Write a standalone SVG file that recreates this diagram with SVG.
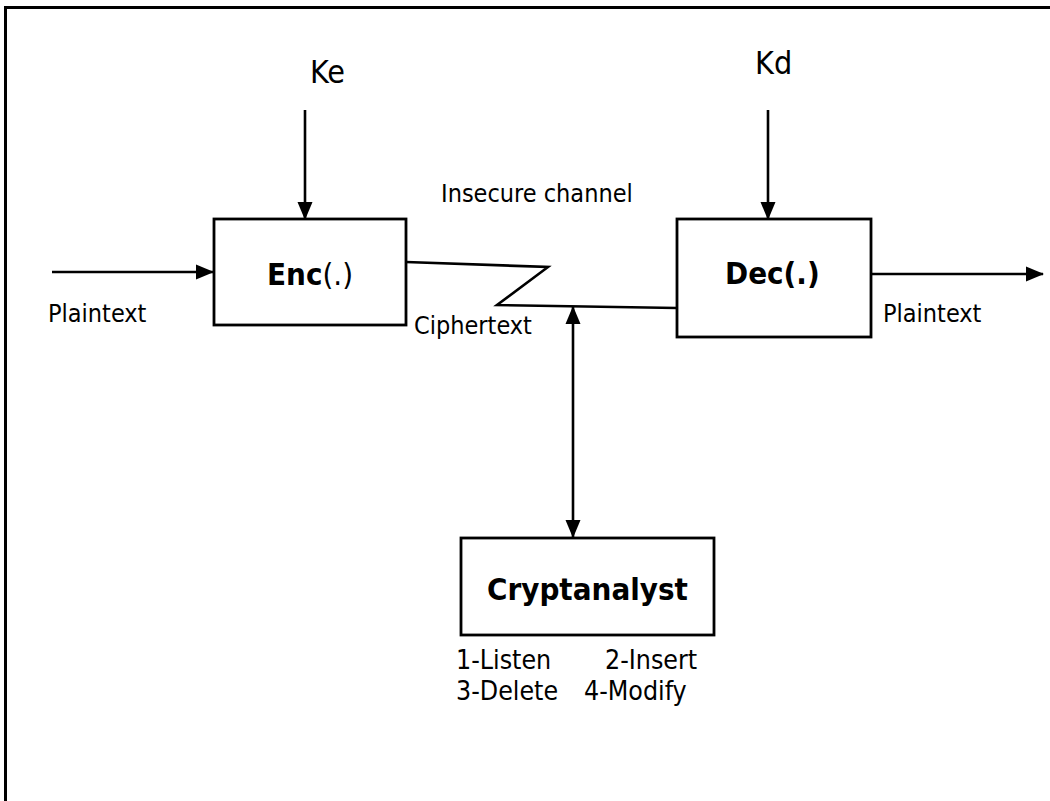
<svg xmlns="http://www.w3.org/2000/svg" width="1050" height="801" viewBox="0 0 1050 801">
  <style>
    text { font-family: "DejaVu Sans Condensed", "DejaVu Sans", sans-serif; font-stretch: condensed; fill: #000; }
    .lbl { font-size: 25px; }
    .op { font-size: 26.5px; }
    .key { font-size: 32px; }
    .title { font-size: 31px; font-weight: bold; }
    .box { fill: #fff; stroke: #000; stroke-width: 2.8; }
    .wire { fill: none; stroke: #000; stroke-width: 2.6; }
  </style>
  <defs>
    <marker id="head" viewBox="0 0 18 16" refX="17" refY="8" markerWidth="18" markerHeight="16" markerUnits="userSpaceOnUse" orient="auto-start-reverse">
      <path d="M0,0.5 L18,8 L0,15.5 Z" fill="#000"/>
    </marker>
  </defs>

  <rect width="1050" height="801" fill="#fff"/>

  <!-- outer frame: top and left edges only -->
  <path d="M5.5,801 V7.5 H1050" fill="none" stroke="#000" stroke-width="3"/>

  <g id="connectors">
    <!-- key inputs -->
    <line class="wire" x1="305" y1="110" x2="305" y2="219" marker-end="url(#head)"/>
    <line class="wire" x1="768" y1="110" x2="768" y2="219" marker-end="url(#head)"/>
    <!-- plaintext in / out -->
    <line class="wire" x1="52" y1="272" x2="213" y2="272" marker-end="url(#head)"/>
    <line class="wire" x1="871" y1="274" x2="1043" y2="274" marker-end="url(#head)"/>
    <!-- insecure channel with break symbol -->
    <polyline class="wire" points="406,262 548,267 497,305 677,308"/>
    <!-- two-way link to the cryptanalyst -->
    <line class="wire" x1="573" y1="307" x2="573" y2="537" marker-start="url(#head)" marker-end="url(#head)"/>
  </g>

  <g id="key-e">
    <text class="key" x="310" y="83">Ke</text>
  </g>
  <g id="key-d">
    <text class="key" x="755" y="74">Kd</text>
  </g>

  <g id="enc">
    <rect class="box" x="214" y="219" width="192" height="106"/>
    <text class="title" x="267" y="285">Enc<tspan font-weight="normal">(.)</tspan></text>
  </g>

  <g id="dec">
    <rect class="box" x="677" y="219" width="194" height="118"/>
    <text class="title" x="725" y="284">Dec(.)</text>
  </g>

  <g id="cryptanalyst">
    <rect class="box" x="461" y="538" width="253" height="97"/>
    <text class="title" x="487" y="600">Cryptanalyst</text>
    <text class="op" x="456" y="669">1-Listen</text>
    <text class="op" x="605" y="669">2-Insert</text>
    <text class="op" x="456" y="700">3-Delete</text>
    <text class="op" x="584" y="700">4-Modify</text>
  </g>

  <g id="labels">
    <text class="lbl" x="441" y="202">Insecure channel</text>
    <text class="lbl" x="48" y="322">Plaintext</text>
    <text class="lbl" x="883" y="322">Plaintext</text>
    <text class="lbl" x="414" y="334">Ciphertext</text>
  </g>
</svg>
